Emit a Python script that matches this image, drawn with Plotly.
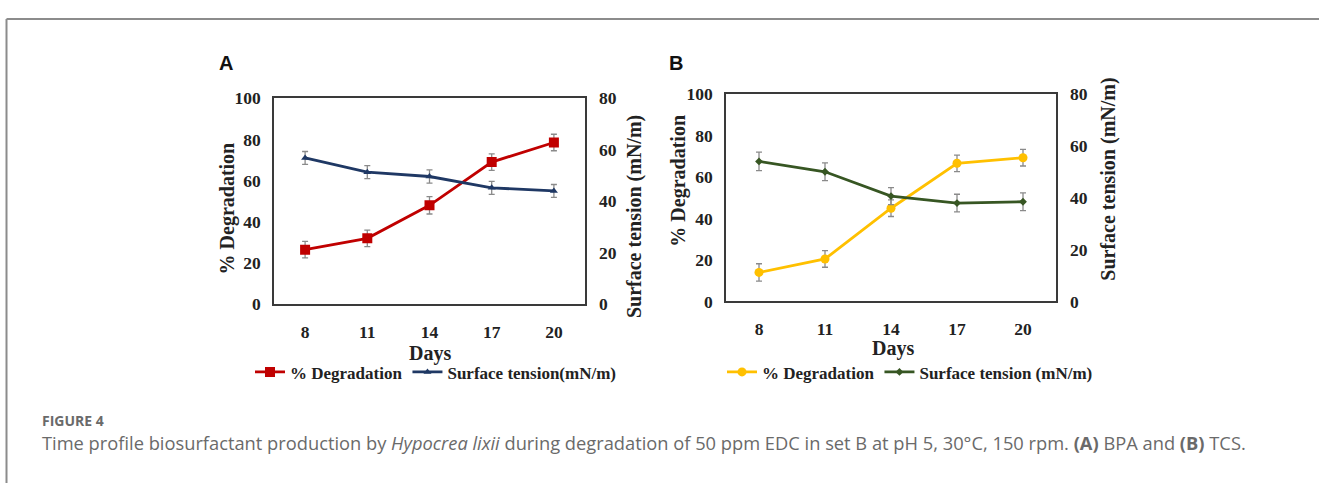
import plotly.graph_objects as go

W, H = 1319, 483

days = [8, 11, 14, 17, 20]
day_labels = ["8", "11", "14", "17", "20"]

# Panel A (BPA)
deg_a = [26.5, 32.0, 48.0, 69.0, 78.5]
deg_a_err = [4.0, 4.0, 4.2, 4.0, 4.0]
st_a = [56.8, 51.3, 49.6, 45.2, 44.0]
st_a_err = [2.5, 2.5, 2.6, 2.5, 2.5]

# Panel B (TCS)
deg_b = [14.0, 20.5, 45.0, 66.7, 69.4]
deg_b_err = [4.2, 4.0, 4.0, 4.0, 4.0]
st_b = [54.1, 50.1, 40.7, 38.0, 38.5]
st_b_err = [3.6, 3.4, 3.3, 3.4, 3.4]

left_ticks = [0, 20, 40, 60, 80, 100]
right_ticks = [0, 20, 40, 60, 80]

SERIF = "Liberation Serif"
ERR_COL = "#8a8a8a"


def px(x):
    return x / W


def py(y):
    return 1 - y / H


fig = go.Figure()


def err(vals):
    return dict(type="data", array=vals, visible=True, color=ERR_COL, thickness=1.3, width=3)


fig.add_trace(go.Scatter(x=days, y=deg_a, error_y=err(deg_a_err), name="% Degradation",
                         mode="lines+markers", line=dict(color="#c00000", width=2.8),
                         marker=dict(symbol="square", size=10, color="#c00000"),
                         xaxis="x", yaxis="y", legend="legend"))
fig.add_trace(go.Scatter(x=days, y=st_a, error_y=err(st_a_err), name="Surface tension(mN/m)",
                         mode="lines+markers", line=dict(color="#1f3864", width=2.8),
                         marker=dict(symbol="triangle-up", size=7, color="#1f3864"),
                         xaxis="x", yaxis="y2", legend="legend"))
fig.add_trace(go.Scatter(x=days, y=deg_b, error_y=err(deg_b_err), name="% Degradation",
                         mode="lines+markers", line=dict(color="#ffc000", width=2.8),
                         marker=dict(symbol="circle", size=9, color="#ffc000"),
                         xaxis="x2", yaxis="y3", legend="legend2"))
fig.add_trace(go.Scatter(x=days, y=st_b, error_y=err(st_b_err), name="Surface tension (mN/m)",
                         mode="lines+markers", line=dict(color="#375623", width=2.8),
                         marker=dict(symbol="diamond", size=6, color="#375623"),
                         xaxis="x2", yaxis="y4", legend="legend2"))

tickfont = dict(family=SERIF, size=17.5, color="#222222", weight="bold")
box = dict(showline=True, linecolor="#3a3a3a", linewidth=1.5, mirror=True,
           showgrid=False, zeroline=False, ticks="")

xa = dict(range=[6.5, 21.5], tickvals=days, ticktext=day_labels, tickfont=tickfont,
          ticklabelstandoff=11, **box)
ya_left = dict(range=[0, 100], tickvals=left_ticks, tickfont=tickfont, ticklabelstandoff=8, **box)
ya_right = dict(range=[0, 80], tickvals=right_ticks, tickfont=tickfont, side="right",
                showline=False, showgrid=False, zeroline=False, ticks="", ticklabelstandoff=13)

A_x = [px(274), px(585)]
A_y = [py(307), py(92)]
B_x = [px(726), px(1056)]
B_y = [py(304), py(88)]

legfont = dict(family=SERIF, size=17, color="#222222", weight="bold")

fig.update_layout(
    width=W, height=H,
    margin=dict(l=0, r=0, t=0, b=0),
    paper_bgcolor="white", plot_bgcolor="white",
    xaxis=dict(domain=A_x, anchor="y", **xa),
    yaxis=dict(domain=A_y, anchor="x", **ya_left),
    yaxis2=dict(domain=A_y, anchor="x", overlaying="y", **ya_right),
    xaxis2=dict(domain=B_x, anchor="y3", **xa),
    yaxis3=dict(domain=B_y, anchor="x2", **ya_left),
    yaxis4=dict(domain=B_y, anchor="x2", overlaying="y3", **ya_right),
    legend=dict(orientation="h", x=px(436), y=py(378), xanchor="center", yanchor="middle",
                font=legfont, itemwidth=30, bgcolor="rgba(0,0,0,0)"),
    legend2=dict(orientation="h", x=px(910), y=py(378), xanchor="center", yanchor="middle",
                 font=legfont, itemwidth=30, bgcolor="rgba(0,0,0,0)"),
    showlegend=True,
)

ann = []
title_font = dict(family=SERIF, size=20, color="#222222")


def t(text, x, y, angle=0, font=title_font, xanchor="center"):
    ann.append(dict(text=text, x=px(x), y=py(y), xref="paper", yref="paper", showarrow=False,
                    textangle=angle, font=font, xanchor=xanchor, yanchor="middle"))


t("<b>% Degradation</b>", 227, 207, -90)
t("<b>Surface tension (mN/m)</b>", 634, 216, -90)
t("<b>Days</b>", 430, 358)
t("<b>% Degradation</b>", 679, 178, -90)
t("<b>Surface tension (mN/m)</b>", 1109, 177, -90)
t("<b>Days</b>", 893, 353)

panel_font = dict(family="Liberation Sans", size=20, color="#111111")
t("<b>A</b>", 226, 55, 0, panel_font)
t("<b>B</b>", 676, 55, 0, panel_font)

cap_font = dict(family="Open Sans", size=18.3, color="#6a6a6a")
t("<b>FIGURE 4</b>", 40, 428, 0, dict(family="Open Sans", size=14, color="#6a6a6a"), "left")
t("Time profile biosurfactant production by <i>Hypocrea lixii</i> during degradation of 50 ppm EDC "
  "in set B at pH 5, 30°C, 150 rpm. <b>(A)</b> BPA and <b>(B)</b> TCS.", 40, 451, 0, cap_font, "left")

fig.update_layout(annotations=ann)

# outer figure frame (top and left edges)
fig.add_shape(type="line", xref="paper", yref="paper", x0=px(6.5), x1=1.01, y0=py(9.5), y1=py(9.5),
              line=dict(color="#8c8c8c", width=2))
fig.add_shape(type="line", xref="paper", yref="paper", x0=px(6.5), x1=px(6.5), y0=py(9.5), y1=-0.05,
              line=dict(color="#8c8c8c", width=2))

fig.write_html("out.html")
